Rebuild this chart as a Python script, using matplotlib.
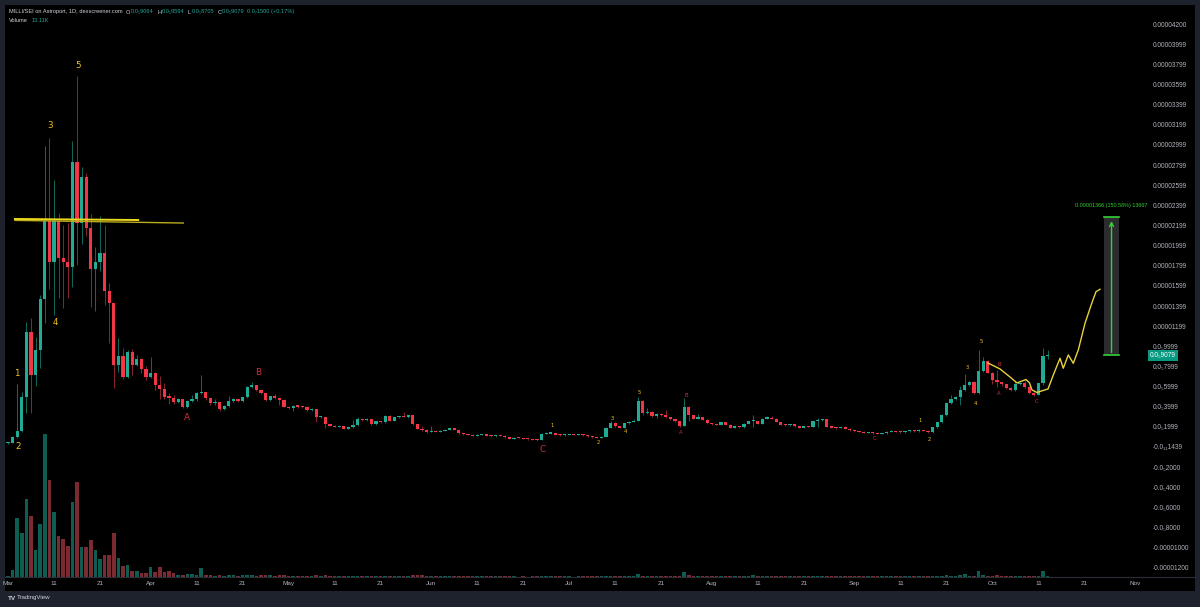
import numpy as np
import pandas as pd
import matplotlib
matplotlib.use('Agg')
import matplotlib.pyplot as plt
import matplotlib.dates as mdates
from matplotlib.patches import Rectangle
from matplotlib.lines import Line2D

plt.rcParams['font.family'] = ['Liberation Sans', 'DejaVu Sans']

# prices in units of 1e-6 SEI, one candle per day from Mar 1
first_open = 0.35
close = [0.43, 1.02, 1.62, 4.93, 11.45, 7.15, 9.63, 14.7, 22.47, 18.4,
         22.47, 18.74, 18.35, 17.84, 28.27, 22.2, 26.84, 21.7, 17.68, 18.4,
         19.3, 15.5, 14.27, 8.14, 9.04, 6.98, 9.46, 8.14, 8.74, 7.71,
         6.98, 7.32, 6.16, 5.76, 4.94, 4.9, 4.44, 4.74, 3.97, 4.6,
         4.74, 5.39, 5.46, 4.83, 4.33, 4.47, 3.77, 4.07, 4.6, 4.77,
         4.6, 4.93, 5.99, 6.16, 5.66, 5.39, 4.67, 5.06, 4.87, 4.67,
         4.0, 3.9, 4.1, 4.0, 3.94, 3.67, 3.8, 2.95, 3.0, 2.28,
         2.12, 2.01, 2.05, 1.82, 1.95, 2.18, 2.75, 2.65, 2.8, 2.25,
         2.55, 2.45, 3.1, 2.6, 2.95, 3.05, 2.98, 3.15, 2.25, 1.79,
         1.69, 1.46, 1.6, 1.5, 1.6, 1.7, 1.85, 1.7, 1.36, 1.26,
         1.2, 1.1, 1.2, 1.25, 1.12, 1.05, 1.15, 1.1, 0.96, 0.82,
         0.92, 0.9, 0.8, 0.75, 0.7, 0.68, 1.29, 1.33, 1.38, 1.22,
         1.15, 1.2, 1.25, 1.2, 1.25, 1.15, 1.06, 0.95, 0.92, 1.0,
         1.92, 2.41, 2.05, 1.92, 2.35, 2.48, 2.61, 4.6, 3.35, 3.5,
         3.11, 3.3, 3.15, 2.95, 2.78, 2.58, 2.09, 4.0, 3.18, 2.81,
         2.95, 2.71, 2.38, 2.28, 2.2, 2.45, 2.2, 1.92, 2.0, 1.95,
         2.32, 2.55, 2.6, 2.3, 2.81, 2.9, 2.8, 2.48, 2.2, 2.15,
         2.25, 2.05, 1.92, 2.05, 1.98, 2.55, 2.65, 2.75, 2.01, 1.92,
         1.88, 2.0, 1.8, 1.65, 1.55, 1.5, 1.4, 1.45, 1.35, 1.3,
         1.35, 1.5, 1.58, 1.5, 1.45, 1.55, 1.6, 1.55, 1.65, 1.6,
         1.45, 1.96, 2.45, 3.18, 4.34, 4.8, 4.94, 5.66, 6.19, 6.49,
         5.36, 7.55, 8.54, 7.38, 6.65, 6.45, 6.22, 5.89, 5.66, 6.26,
         6.35, 6.0, 5.39, 5.2, 6.32, 9.064, 9.079]
high = [0.5, 1.1, 6.3, 5.5, 12.45, 12.8, 10.95, 15.1, 29.9, 30.7,
        26.5, 23.2, 22.0, 22.2, 30.4, 36.8, 27.8, 27.2, 23.1, 19.9,
        22.9, 22.0, 16.3, 14.3, 10.85, 9.8, 9.6, 9.7, 9.1, 8.8,
        8.04, 8.9, 7.4, 7.05, 6.33, 5.4, 5.2, 4.9, 4.8, 4.7,
        5.2, 5.5, 7.15, 5.5, 4.9, 4.8, 4.5, 4.2, 5.06, 4.9,
        4.8, 5.0, 6.1, 6.45, 6.2, 5.7, 5.4, 5.1, 5.3, 4.9,
        4.7, 4.05, 4.2, 4.15, 4.1, 3.95, 3.9, 3.8, 3.1, 3.0,
        2.3, 2.15, 2.1, 2.05, 2.0, 2.7, 3.0, 2.8, 2.9, 2.8,
        2.6, 2.6, 3.2, 3.15, 3.0, 3.1, 3.5, 3.2, 3.15, 2.3,
        2.1, 1.75, 2.1, 1.65, 1.65, 1.75, 1.9, 1.9, 1.75, 1.4,
        1.3, 1.25, 1.25, 1.3, 1.3, 1.15, 1.2, 1.2, 1.15, 1.0,
        0.95, 0.95, 0.92, 0.82, 0.78, 0.75, 1.35, 1.45, 1.5, 1.4,
        1.25, 1.25, 1.3, 1.3, 1.3, 1.3, 1.2, 1.1, 1.0, 1.05,
        1.95, 2.6, 2.45, 2.1, 2.4, 2.55, 2.8, 5.0, 4.65, 3.9,
        3.55, 3.35, 3.35, 3.7, 3.0, 2.8, 2.6, 4.84, 4.1, 3.2,
        3.3, 2.95, 2.75, 2.4, 2.3, 2.5, 2.5, 2.25, 2.05, 2.05,
        2.35, 2.6, 3.15, 2.6, 2.85, 3.1, 3.1, 2.85, 2.5, 2.25,
        2.3, 2.3, 2.1, 2.1, 2.1, 2.6, 2.85, 2.8, 2.8, 2.05,
        1.95, 2.05, 2.05, 1.85, 1.7, 1.6, 1.55, 1.5, 1.5, 1.4,
        1.4, 1.55, 1.65, 1.62, 1.55, 1.6, 1.68, 1.65, 1.75, 1.7,
        1.65, 2.0, 2.5, 3.3, 4.45, 5.15, 5.05, 6.06, 7.25, 6.6,
        6.55, 9.63, 8.9, 8.6, 7.4, 7.6, 6.5, 6.3, 5.95, 6.55,
        6.45, 6.6, 6.1, 5.45, 6.4, 9.8, 9.594]
low = [0.3, 0.4, 0.9, 1.5, 3.4, 3.4, 6.06, 7.8, 12.3, 15.7,
       13.1, 14.8, 13.8, 14.8, 15.9, 18.1, 20.2, 21.0, 13.9, 13.5,
       17.5, 14.1, 10.36, 5.83, 7.4, 6.8, 6.9, 7.15, 8.0, 7.3,
       6.65, 6.9, 5.66, 4.74, 4.8, 4.3, 4.3, 4.4, 3.9, 3.9,
       4.5, 4.6, 5.3, 4.7, 4.2, 4.2, 3.6, 3.7, 4.0, 4.5,
       4.5, 4.5, 4.9, 5.9, 5.6, 5.3, 4.6, 4.6, 4.8, 4.2,
       3.95, 3.8, 3.6, 3.9, 3.9, 3.6, 3.6, 2.5, 2.9, 1.86,
       2.05, 1.95, 1.95, 1.75, 1.8, 1.9, 2.1, 2.55, 2.6, 2.2,
       2.2, 2.4, 2.4, 2.55, 2.55, 2.9, 2.95, 2.9, 2.2, 1.75,
       1.6, 1.4, 1.45, 1.45, 1.45, 1.6, 1.65, 1.65, 1.3, 1.2,
       1.15, 1.05, 1.05, 1.15, 1.1, 1.0, 1.0, 1.05, 0.9, 0.78,
       0.8, 0.85, 0.75, 0.7, 0.65, 0.62, 0.65, 1.25, 1.3, 1.18,
       1.1, 1.1, 1.15, 1.15, 1.15, 1.1, 1.0, 0.9, 0.85, 0.9,
       0.95, 1.85, 2.0, 1.85, 1.85, 2.3, 2.5, 2.55, 3.2, 3.3,
       3.0, 2.85, 3.1, 2.9, 2.7, 2.5, 1.95, 2.05, 2.6, 2.75,
       2.8, 2.65, 2.3, 2.2, 2.15, 2.15, 2.15, 1.85, 1.9, 1.9,
       1.9, 2.3, 2.0, 2.25, 2.25, 2.8, 2.75, 2.45, 2.15, 2.1,
       2.1, 2.0, 1.88, 1.9, 1.95, 1.95, 2.0, 2.6, 1.95, 1.88,
       1.8, 1.85, 1.75, 1.6, 1.5, 1.45, 1.35, 1.35, 1.3, 1.25,
       1.28, 1.3, 1.45, 1.45, 1.4, 1.42, 1.5, 1.5, 1.5, 1.55,
       1.4, 1.4, 1.9, 2.4, 3.1, 4.25, 4.7, 4.2, 5.6, 6.1,
       5.3, 5.3, 7.4, 7.3, 6.3, 6.0, 6.1, 5.8, 5.55, 5.55,
       6.2, 5.9, 5.3, 5.1, 5.15, 6.2, 8.705]
volume_k = [13, 67, 587, 437, 780, 607, 267, 530, 1427, 970,
            653, 413, 377, 307, 753, 953, 297, 300, 367, 267,
            183, 223, 217, 443, 187, 107, 123, 63, 63, 37,
            43, 97, 47, 103, 53, 63, 37, 17, 23, 27,
            27, 23, 93, 23, 23, 13, 17, 7, 17, 17,
            13, 17, 23, 17, 13, 17, 17, 17, 10, 17,
            17, 13, 13, 13, 12, 8, 10, 20, 9, 25,
            10, 8, 6, 9, 7, 10, 12, 8, 9, 11,
            8, 7, 12, 9, 10, 8, 7, 9, 17, 18,
            16, 10, 8, 7, 6, 8, 9, 7, 10, 8,
            6, 7, 6, 8, 7, 6, 7, 6, 8, 7,
            6, 5, 6, 5, 6, 7, 13, 9, 8, 7,
            6, 7, 6, 5, 6, 7, 8, 7, 6, 7,
            12, 10, 9, 7, 10, 9, 11, 30, 14, 9,
            8, 7, 8, 9, 8, 7, 10, 53, 16, 10,
            8, 9, 8, 7, 6, 8, 7, 8, 6, 7,
            9, 10, 17, 9, 13, 8, 7, 8, 7, 6,
            7, 6, 7, 6, 9, 10, 9, 8, 10, 7,
            6, 7, 8, 7, 6, 6, 7, 6, 7, 6,
            7, 8, 7, 6, 7, 8, 7, 6, 8, 7,
            8, 12, 13, 15, 16, 14, 12, 18, 30, 14,
            12, 63, 20, 15, 14, 17, 12, 10, 9, 11,
            10, 9, 12, 11, 15, 63, 13.11]

# wave labels: (text, day index, price)
big_yellow = [('1', 1.96, 7.25), ('2', 2.17, 0.0), ('3', 9.13, 31.88),
              ('4', 10.2, 12.41), ('5', 15.2, 37.84)]
big_red = [('A', 38.9, 2.88), ('B', 54.3, 7.35), ('C', 116.3, -0.2)]
small_yellow = [('1', 118.3, 2.18), ('2', 128.3, 0.40), ('3', 131.3, 2.78),
                ('4', 134.3, 1.49), ('5', 137.2, 5.46),
                ('1', 198.3, 2.68), ('2', 200.4, 0.79), ('3', 208.5, 7.94),
                ('4', 210.4, 4.27), ('5', 211.5, 10.43)]
small_red = [('A', 146.3, 1.39), ('B', 147.4, 5.16), ('C', 188.3, 0.89),
             ('B', 215.4, 8.24), ('A', 215.4, 5.36), ('C', 223.5, 4.47)]

# yellow trend lines near the top (day, price)
trend1_day, trend1_price = [1.5, 28.3], [22.64, 22.54]
trend2_day, trend2_price = [1.5, 38.1], [22.50, 22.24]

# projected path drawn on the right
path_day = [213.04, 215.65, 217.83, 219.35, 220.43, 221.3, 222.07, 222.61,
            223.7, 225.0, 226.09, 227.24, 228.7, 229.41, 230.5, 231.59,
            232.67, 234.13, 235.59, 236.52, 237.39]
path_price = [8.34, 7.75, 6.95, 6.36, 6.55, 6.70, 6.36, 5.66,
              5.41, 5.61, 5.76, 7.15, 8.81, 7.82, 9.14, 8.31,
              9.63, 12.28, 14.26, 15.42, 15.66]

# price-range measure box
measure_day = [238.3, 241.5]
measure_price = [9.11, 22.81]
measure_text = '0.00001366 (150.58%) 13667'

price_ticks = [42, 40, 38, 36, 34, 32, 30, 28, 26, 24, 22, 20, 18, 16, 14,
               12, 10, 8, 6, 4, 2, 0, -2, -4, -6, -8, -10, -12]
price_labels = ['0.00004200', '0.00003999', '0.00003799', '0.00003599',
                '0.00003399', '0.00003199', '0.00002999', '0.00002799',
                '0.00002599', '0.00002399', '0.00002199', '0.00001999',
                '0.00001799', '0.00001599', '0.00001399', '0.00001199',
                '0.0\u20859999', '0.0\u20857999', '0.0\u20855999',
                '0.0\u20853999', '0.0\u20851999', '-0.0\u2081\u20811439',
                '-0.0\u20852000', '-0.0\u20854000', '-0.0\u20856000',
                '-0.0\u20858000', '-0.00001000', '-0.00001200']

GREEN = '#22ab94'
RED = '#f23645'
GREEN_WICK = '#0f6b5d'
RED_WICK = '#8a2530'
GREEN_VOL = '#0e5d52'
RED_VOL = '#7c2a31'
YELLOW = '#f0c21c'
LABEL_RED = '#cf2f3b'
TXT = '#b2b5be'
FRAME = '#1e222d'

W, H = 1200, 607
fig = plt.figure(figsize=(12, 6.07), dpi=100, facecolor=FRAME)

bg = fig.add_axes([5 / W, 1 - 591 / H, 1190 / W, 586 / H])
bg.set_facecolor('black')
bg.set_xticks([])
bg.set_yticks([])
for s in bg.spines.values():
    s.set_visible(False)

rect = [5 / W, 1 - 577 / H, 1138 / W, 571 / H]
ax = fig.add_axes(rect)
axv = ax.twinx()
ax.set_zorder(axv.get_zorder() + 1)
ax.patch.set_visible(False)
axv.patch.set_visible(False)

dates = pd.date_range('2024-03-01', periods=len(close), freq='D')
xs = mdates.date2num(dates)
x0 = xs[0]
c = np.array(close)
o = np.concatenate([[first_open], c[:-1]])
h = np.array(high)
l = np.array(low)
up = c >= o

# volume
vol_colors = np.where(up, GREEN_VOL, RED_VOL)
axv.bar(xs, volume_k, width=0.8, color=vol_colors, linewidth=0)
axv.set_ylim(0, max(volume_k) * 571 / 142.7)
axv.set_yticks([])
for s in axv.spines.values():
    s.set_visible(False)

# candles
ax.vlines(xs, l, h, colors=np.where(up, GREEN_WICK, RED_WICK), linewidth=0.7, zorder=2)
body_low = np.minimum(o, c)
body_h = np.maximum(np.abs(c - o), 0.12)
ax.bar(xs, body_h, bottom=body_low, width=0.72, color=np.where(up, GREEN, RED),
       linewidth=0, zorder=3)

# trend lines and projected path
ax.plot(x0 + np.array(trend2_day), trend2_price, color='#b9ac1a', lw=1.0, zorder=4)
ax.plot(x0 + np.array(trend1_day), trend1_price, color='#ecd81e', lw=1.4, zorder=4)
ax.plot(x0 + np.array(path_day), path_price, color='#e9d13a', lw=1.0, zorder=4,
        solid_joinstyle='round')

# measure box
mx0, mx1 = x0 + measure_day[0], x0 + measure_day[1]
ax.add_patch(Rectangle((mx0, measure_price[0]), mx1 - mx0,
                       measure_price[1] - measure_price[0],
                       facecolor='#2c2c2e', edgecolor='none', zorder=4))
ax.plot([mx0, mx1], [measure_price[0]] * 2, color='#33d13a', lw=1.2, zorder=5)
ax.plot([mx0, mx1], [measure_price[1]] * 2, color='#33d13a', lw=1.2, zorder=5)
mxc = (mx0 + mx1) / 2
ax.annotate('', xy=(mxc, measure_price[1] - 0.1), xytext=(mxc, measure_price[0]),
            arrowprops=dict(arrowstyle='->', color='#33d13a', lw=1.0,
                            mutation_scale=7), zorder=5)
ax.text(mxc, measure_price[1] + 1.2, measure_text, color='#2fd12f', fontsize=3.9,
        ha='center', va='center', zorder=5)

# wave labels
for t, d, p in big_yellow:
    ax.text(x0 + d, p, t, color=YELLOW, fontsize=6.3, ha='center', va='center',
            family=['DejaVu Sans'], zorder=6)
for t, d, p in big_red:
    ax.text(x0 + d, p, t, color=LABEL_RED, fontsize=6.3, ha='center', va='center',
            family=['DejaVu Sans'], zorder=6)
for t, d, p in small_yellow:
    ax.text(x0 + d, p, t, color=YELLOW, fontsize=3.8, ha='center', va='center',
            family=['DejaVu Sans'], zorder=6)
for t, d, p in small_red:
    ax.text(x0 + d, p, t, color=LABEL_RED, fontsize=3.8, ha='center', va='center',
            family=['DejaVu Sans'], zorder=6)

# axes
ax.set_xlim(x0 - 0.652, x0 + 246.74)
ax.set_ylim(-12.91, 43.79)
ax.yaxis.tick_right()
ax.set_yticks(price_ticks)
ax.set_yticklabels(price_labels)
ax.tick_params(axis='y', length=0, pad=7.3, labelsize=4.7, labelcolor=TXT)

ax.xaxis.set_major_locator(mdates.DayLocator(bymonthday=[1, 11, 21]))
ax.xaxis.set_major_formatter(plt.FuncFormatter(
    lambda v, pos: mdates.num2date(v).strftime('%b') if mdates.num2date(v).day == 1
    else str(mdates.num2date(v).day)))
ax.tick_params(axis='x', length=0, pad=2.6, labelsize=4.6, labelcolor=TXT)
for s in ax.spines.values():
    s.set_visible(False)
fig.add_artist(Line2D([5 / W, 1195 / W], [1 - 577 / H] * 2, transform=fig.transFigure,
                      color='#2a2e39', lw=0.8))

# last price tag
ax.annotate('0.0\u20859079', xy=(1.0062, c[-1]), xycoords=ax.get_yaxis_transform(),
            color='white', fontsize=4.7, ha='left', va='center', annotation_clip=False,
            bbox=dict(boxstyle='square,pad=0.28', facecolor='#089981', edgecolor='none'),
            zorder=7)

# header legend
def header(y_px, parts):
    s0, col0, _ = parts[0]
    t = fig.text(9 / W, 1 - y_px / H, s0, color=col0, fontsize=4.1, ha='left', va='center')
    for s, col, gap in parts[1:]:
        t = bg.annotate(s, xy=(1, 0.5), xycoords=t, xytext=(gap, 0),
                        textcoords='offset points', color=col, fontsize=4.1,
                        ha='left', va='center')

HG = '#26a69a'
header(12, [('MILLI/SEI on Astroport, 1D, dexscreener.com', '#d1d4dc', 0),
            ('O', '#d1d4dc', 2.5), ('0.0\u20859064', HG, 0.3),
            ('H', '#d1d4dc', 2.5), ('0.0\u20859594', HG, 0.3),
            ('L', '#d1d4dc', 2.5), ('0.0\u20858705', HG, 0.3),
            ('C', '#d1d4dc', 2.5), ('0.0\u20859079', HG, 0.3),
            ('0.0\u20871500 (+0.17%)', HG, 2.0)])
header(20, [('Volume', '#d1d4dc', 0), ('13.11K', HG, 2.5)])

# footer
fig.text(8 / W, 1 - 598 / H, 'TV', color='#d1d4dc', fontsize=4.6, fontweight='bold',
         ha='left', va='center')
fig.text(17 / W, 1 - 598 / H, 'TradingView', color='#d1d4dc', fontsize=4.4,
         ha='left', va='center')

fig.savefig('out.png', dpi=100, facecolor=FRAME)
